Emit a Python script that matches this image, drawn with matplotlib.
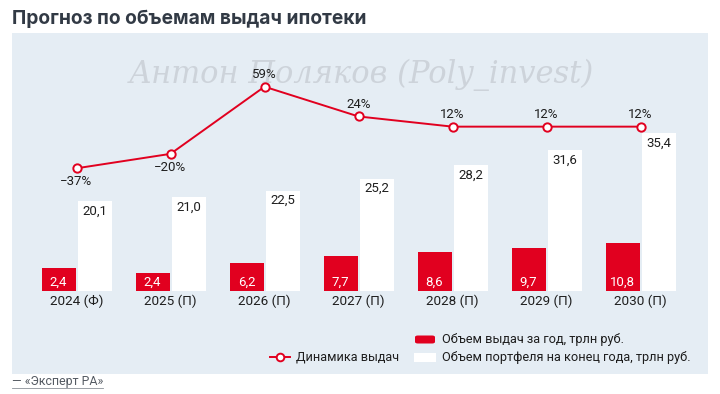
import matplotlib

matplotlib.use("Agg")
import matplotlib.pyplot as plt
from matplotlib.patches import FancyBboxPatch, Rectangle
import numpy as np

# data
years = ["2024 (Ф)", "2025 (П)", "2026 (П)", "2027 (П)", "2028 (П)", "2029 (П)", "2030 (П)"]
issued_labels = ["2,4", "2,4", "6,2", "7,7", "8,6", "9,7", "10,8"]
issued_drawn = [5.0, 3.9, 6.2, 7.7, 8.6, 9.7, 10.8]  # bar heights as drawn in the source
portfolio = [20.1, 21.0, 22.5, 25.2, 28.2, 31.6, 35.4]
growth = [-37, -20, 59, 24, 12, 12, 12]

RED = "#e1001f"
PANEL = "#e5edf4"
TEXT = "#1e1e1e"
W, H = 720, 394

plt.rcParams["font.family"] = ["Roboto", "DejaVu Sans"]


def fx(px):
    return px / W


def fy(py):
    return 1 - py / H


fig = plt.figure(figsize=(W / 100, H / 100), dpi=100)
fig.patch.set_facecolor("white")

# background panel
fig.patches.append(Rectangle((fx(12), fy(374)), fx(695.5), (374 - 33) / H,
                             transform=fig.transFigure, facecolor=PANEL, edgecolor="none", zorder=-2))

fig.text(fx(12), fy(19), "Прогноз по объемам выдач ипотеки", fontsize=13.8, fontweight="bold",
         family=["Inter", "DejaVu Sans"], color="#323a45", va="center", ha="left")

# watermark
fig.text(fx(361), fy(75), "Антон Поляков (Poly_invest)", fontsize=22, style="italic",
         family="DejaVu Serif", color="#cdd3da", ha="center", va="center", zorder=-1)

# bar axes: x=0 group centre at 76.5 px, 94 px per group; y=0 at 290.7 px, 4.45 px per unit
x_left, x_right = 76.5 - 47, 76.5 + 6.5 * 94
y_bot, y_top = 290.7, 33
ax = fig.add_axes([fx(x_left), fy(y_bot), fx(x_right - x_left), (y_bot - y_top) / H])
ax.set_xlim(-0.5, 6.5)
ax.set_ylim(0, (y_bot - y_top) / 4.45)
ax.axis("off")

x = np.arange(len(years))
off, bw = 18 / 94, 34 / 94
ax.bar(x - off, issued_drawn, width=bw, color=RED, zorder=2)
ax.bar(x + off, portfolio, width=bw, color="white", zorder=2)

for i in range(len(years)):
    ax.text(x[i] - off, 1.9, issued_labels[i], ha="center", va="center", color="white", fontsize=9.5)
    ax.text(x[i] + off, portfolio[i] - 2.25, f"{portfolio[i]:.1f}".replace(".", ","),
            ha="center", va="center", color=TEXT, fontsize=9.5)
    ax.text(x[i], -2.35, years[i], ha="center", va="center", color=TEXT, fontsize=9.7, clip_on=False)

# line axes: -37% at 168.3 px, 0.85 px per percent
ax2 = fig.add_axes(ax.get_position())
ax2.set_xlim(-0.5, 6.5)
ax2.set_ylim(-37 - (y_bot - 168.3) / 0.85, -37 + (168.3 - y_top) / 0.85)
ax2.axis("off")
ax2.plot(x, growth, color=RED, lw=1.4, marker="o", ms=6, mfc="white", mec=RED, mew=1.4, zorder=3)
for i, g in enumerate(growth):
    lab = f"{g}%".replace("-", "−")
    if g < 0:
        ax2.text(x[i], g - 16, lab, ha="center", va="center", color=TEXT, fontsize=9.5)
    else:
        ax2.text(x[i], g + 14.5, lab, ha="center", va="center", color=TEXT, fontsize=9.5)

# legend
fig.patches.append(FancyBboxPatch((fx(415), fy(343.5)), fx(20), 8 / H, boxstyle="round,pad=0,rounding_size=0.004",
                                  transform=fig.transFigure, facecolor=RED, edgecolor="none"))
fig.text(fx(441.5), fy(340), "Объем выдач за год, трлн руб.", fontsize=9.2, color=TEXT, va="center")
fig.patches.append(Rectangle((fx(414), fy(362.3)), fx(22), 9.6 / H, transform=fig.transFigure,
                             facecolor="white", edgecolor="none"))
fig.text(fx(441.5), fy(357.3), "Объем портфеля на конец года, трлн руб.", fontsize=9.2, color=TEXT,
         va="center")
fig.lines.append(plt.Line2D([fx(270), fx(290)], [fy(356.7), fy(356.7)], transform=fig.transFigure,
                            color=RED, lw=1.4))
fig.lines.append(plt.Line2D([fx(280)], [fy(356.7)], transform=fig.transFigure, color=RED,
                            marker="o", ms=5.5, mfc="white", mec=RED, mew=1.4, ls="none"))
fig.text(fx(296), fy(357.3), "Динамика выдач", fontsize=9.1, color=TEXT, va="center")

fig.text(fx(12), fy(381.7), "— «Эксперт РА»", fontsize=8.9, color="#555b63", va="center")
fig.lines.append(plt.Line2D([fx(12), fx(103)], [fy(387.5), fy(387.5)], transform=fig.transFigure,
                            color="#8a9098", lw=0.6))

fig.savefig("out.png", dpi=100)
